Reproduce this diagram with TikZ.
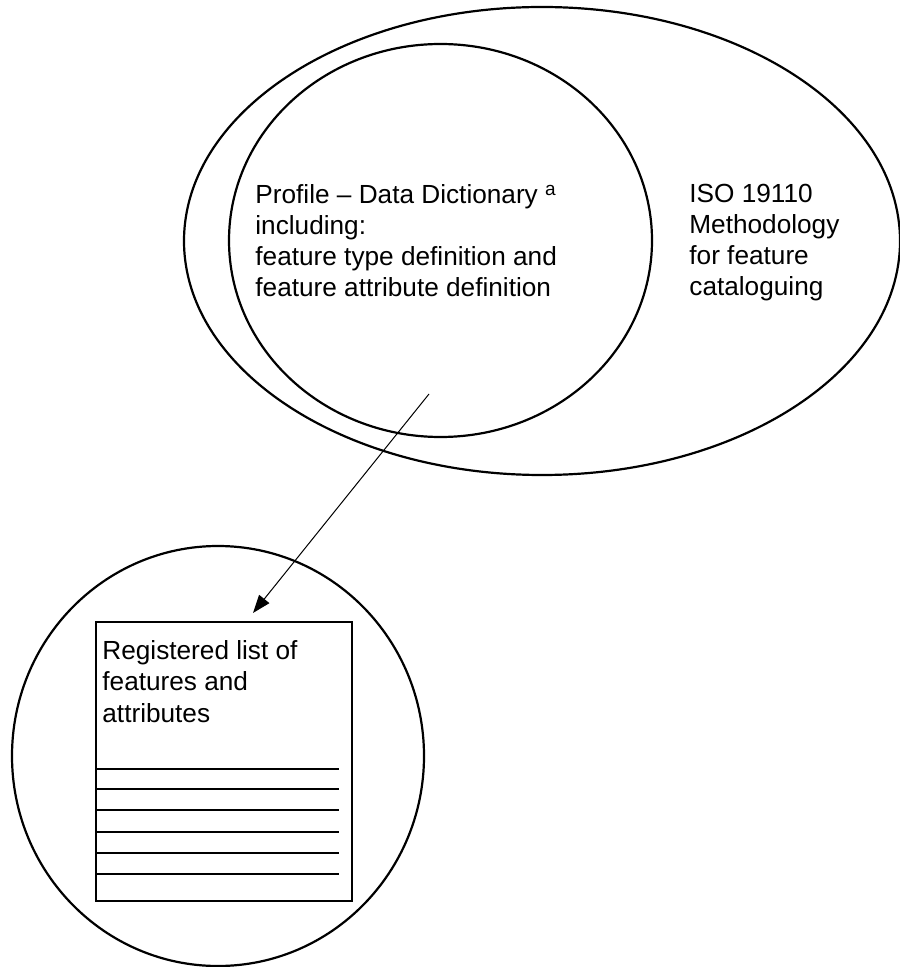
\documentclass[tikz,border=0pt]{standalone}
\usepackage{fontspec}
\setmainfont{Liberation Sans}
\usetikzlibrary{shapes.geometric,arrows.meta}
\begin{document}
\begin{tikzpicture}[x=0.5pt,y=-0.5pt,
  outline/.style={draw=black,line width=1.1pt,inner sep=0pt,outer sep=0pt},
  label/.style={inner sep=0pt,anchor=base west,align=left,
    font=\fontsize{13.1pt}{15.65pt}\selectfont},
  ruleline/.style={draw=black,line width=1.1pt},
  link/.style={draw=black,line width=0.5pt,-{Triangle[length=9pt,width=6.5pt]}}]
\useasboundingbox (0,0) rectangle (899,967);

% methodology (outer) and profile (inner) ellipses
\node[outline,ellipse,minimum width=358pt,minimum height=234pt] (method) at (542,241) {};
\node[outline,ellipse,minimum width=211.5pt,minimum height=196.5pt] (profile) at (440.5,240.5) {};

% register circle with its sheet
\node[outline,ellipse,minimum width=206pt,minimum height=210pt] (register) at (218,756) {};
\node[outline,rectangle,minimum width=128pt,minimum height=139.5pt] (sheet) at (224,761.5) {};
\foreach \y in {769,789,810,832,853,874}
  \draw[ruleline] (96,\y) -- (339,\y);

% texts (anchored at the baseline of their last line)
\node[label] (profiletext) at (255,297)
  {Profile -- Data Dictionary \raisebox{4pt}{\fontsize{9.5pt}{9.5pt}\selectfont a}\\
   including:\\feature type definition and\\feature attribute definition};
\node[label] (methodtext) at (689,296)
  {ISO 19110\\Methodology\\for feature\\cataloguing};
\node[label] (sheettext) at (102,722)
  {Registered list of\\features and\\attributes};

% derivation arrow
\coordinate (src) at (429,394);
\coordinate (tip) at (253,613);
\draw[link] (src) -- (tip);
\end{tikzpicture}
\end{document}
